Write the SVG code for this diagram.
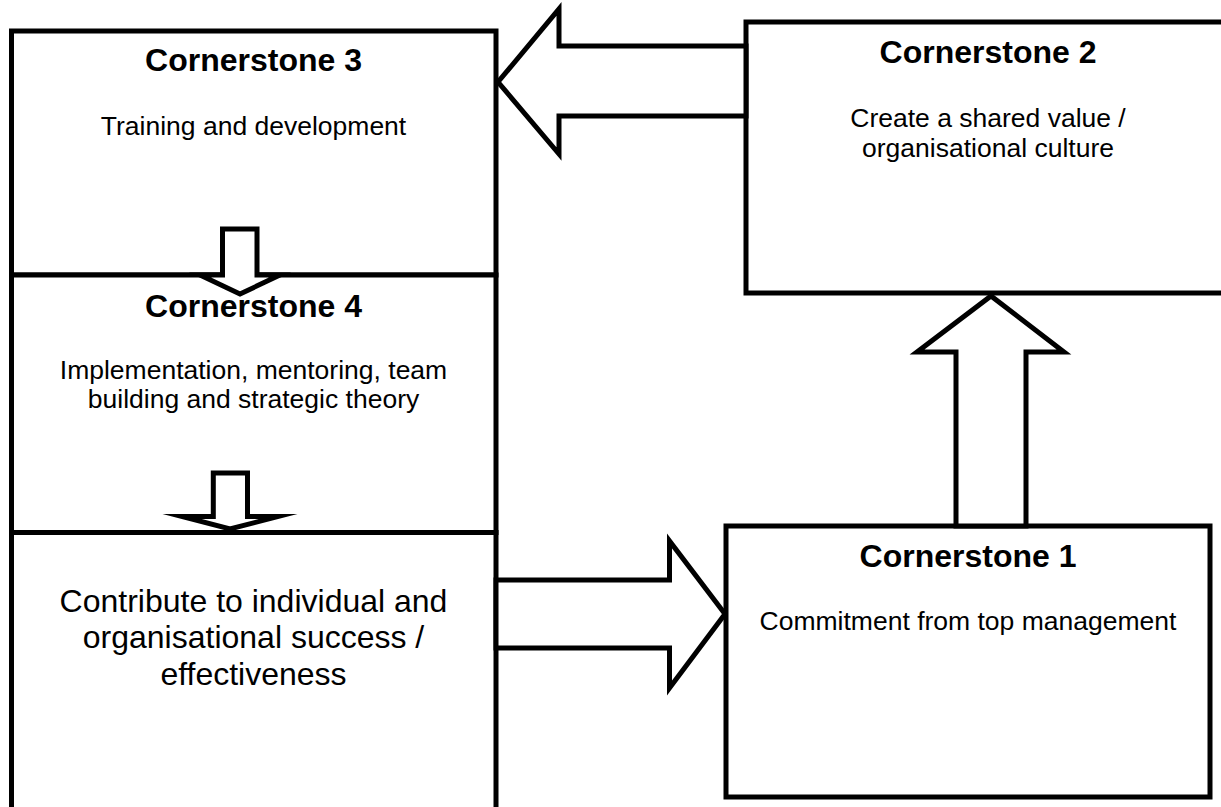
<svg xmlns="http://www.w3.org/2000/svg" width="1221" height="807" viewBox="0 0 1221 807">
<style>
.box{fill:#fff;stroke:#000;stroke-width:5}
.arr{fill:#fff;stroke:#000;stroke-width:5;stroke-linejoin:miter;stroke-miterlimit:10}
text{font-family:"Liberation Sans",Arial,sans-serif;fill:#000;text-anchor:middle}
.t{font-size:32px;font-weight:bold}
.b{font-size:26.5px}
.c{font-size:32px}
</style>
<rect width="1221" height="807" fill="#fff"/>
<g id="cornerstone3">
<rect class="box" x="11.5" y="31" width="484.5" height="244"/>
<text class="t" x="253.5" y="71">Cornerstone 3</text>
<text class="b" x="253.5" y="135">Training and development</text>
</g>
<g id="cornerstone4">
<rect class="box" x="11.5" y="275" width="484.5" height="257.5"/>
<text class="t" x="253.5" y="317">Cornerstone 4</text>
<text class="b" x="253.5" y="379">Implementation, mentoring, team</text>
<text class="b" x="253.5" y="408">building and strategic theory</text>
</g>
<g id="outcome">
<rect class="box" x="11.5" y="532.5" width="484.5" height="277"/>
<text class="c" x="253.5" y="612">Contribute to individual and</text>
<text class="c" x="253.5" y="648">organisational success /</text>
<text class="c" x="253.5" y="685">effectiveness</text>
</g>
<g id="cornerstone2">
<rect class="box" x="746" y="22" width="484" height="271"/>
<text class="t" x="988" y="63">Cornerstone 2</text>
<text class="b" x="988" y="127">Create a shared value /</text>
<text class="b" x="988" y="157">organisational culture</text>
</g>
<g id="cornerstone1">
<rect class="box" x="726" y="526" width="484" height="271"/>
<text class="t" x="968" y="567">Cornerstone 1</text>
<text class="b" x="968" y="630">Commitment from top management</text>
</g>
<g id="connectors">
<polygon class="arr" points="746,46 559,46 559,9 498,82 559,154 559,116 746,116"/>
<polygon class="arr" points="222.5,229 257,229 257,275 280,275 240,294 200,275 222.5,275"/>
<polygon class="arr" points="213.3,473 247.5,473 247.5,516.5 278,516.5 230,529 182,516.5 213.3,516.5"/>
<polygon class="arr" points="956,526 956,352 917,352 991,296 1064,352 1026,352 1026,526"/>
<polygon class="arr" points="496,580 669.5,580 669.5,541 725,614 669.5,688 669.5,648 496,648"/>
</g>
</svg>
